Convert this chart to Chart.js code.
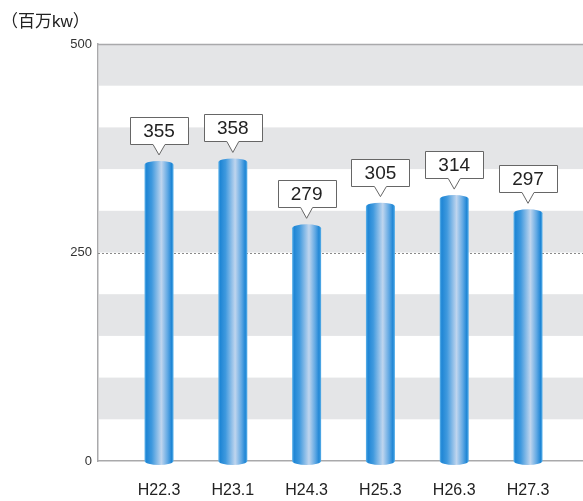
<!DOCTYPE html>
<html>
<head>
<meta charset="utf-8">
<script src="https://cdn.jsdelivr.net/npm/chart.js"></script>
<style>
  html, body { margin: 0; padding: 0; background: #fff; }
  #wrap { width: 583px; height: 501px; }
</style>
</head>
<body>
<div id="wrap"><canvas id="chartDenryoku" width="583" height="501"></canvas></div>
<script>
// データ（百万kW）
const categories = ['H22.3', 'H23.1', 'H24.3', 'H25.3', 'H26.3', 'H27.3'];
const values = [355, 358, 279, 305, 314, 297];
const yTicks = [0, 250, 500];
const unitLabel = '（百万kw）';

const FONT = '"Liberation Sans", Arial, "Noto Sans CJK JP", sans-serif';

// 背景の縞模様・250の点線・上枠線
const bgPlugin = {
  id: 'bgBands',
  beforeDatasetsDraw(chart) {
    const { ctx, chartArea: a, scales: { y } } = chart;
    ctx.save();
    ctx.fillStyle = '#e4e5e7';
    for (let v = 50; v < 500; v += 100) {
      const top = y.getPixelForValue(v + 50);
      const bot = y.getPixelForValue(v);
      ctx.fillRect(a.left + 1, top, a.right - a.left, bot - top);
    }
    // 250 点線
    const p = Math.round(y.getPixelForValue(250)) + 0.5;
    ctx.strokeStyle = '#8a8a8a';
    ctx.lineWidth = 1;
    ctx.setLineDash([2, 2]);
    ctx.beginPath();
    ctx.moveTo(a.left, p);
    ctx.lineTo(a.right, p);
    ctx.stroke();
    ctx.setLineDash([]);
    // 上枠
    const t = Math.round(y.getPixelForValue(500)) + 0.5;
    ctx.strokeStyle = '#a9a9ab';
    ctx.lineWidth = 1.5;
    ctx.beginPath();
    ctx.moveTo(a.left, t);
    ctx.lineTo(a.right, t);
    ctx.stroke();
    ctx.restore();
  }
};

// 円柱型の棒と吹き出しラベル
const cylPlugin = {
  id: 'cylinders',
  afterDatasetsDraw(chart) {
    const { ctx } = chart;
    const meta = chart.getDatasetMeta(0);
    meta.data.forEach((bar, i) => {
      const w = bar.width, x0 = bar.x - w / 2, x1 = bar.x + w / 2;
      const yTop = bar.y, yBase = bar.base;
      const ry = 4;
      const g = ctx.createLinearGradient(x0, 0, x1, 0);
      g.addColorStop(0, '#62b4ea');
      g.addColorStop(0.07, '#1f86d5');
      g.addColorStop(0.25, '#3f99de');
      g.addColorStop(0.58, '#bfd5ee');
      g.addColorStop(0.8, '#5ea7e3');
      g.addColorStop(0.93, '#1f86d5');
      g.addColorStop(1, '#5db2ea');
      ctx.save();
      ctx.fillStyle = g;
      ctx.beginPath();
      ctx.moveTo(x0, yTop);
      ctx.ellipse(bar.x, yTop, w / 2, ry, 0, Math.PI, 0, false);
      ctx.lineTo(x1, yBase);
      ctx.ellipse(bar.x, yBase, w / 2, ry, 0, 0, Math.PI, false);
      ctx.closePath();
      ctx.fill();
      ctx.restore();

      // 吹き出し
      const bw = 58, bh = 27;
      const tipY = yTop - 10;
      const bBot = yTop - 21;
      const bTop = bBot - bh;
      const bl = Math.round(bar.x - bw / 2) + 0.5, br = bl + bw;
      const tb = Math.round(bTop) + 0.5, bb = Math.round(bBot) + 0.5;
      ctx.save();
      ctx.fillStyle = '#fff';
      ctx.strokeStyle = '#666';
      ctx.lineWidth = 1;
      ctx.beginPath();
      ctx.moveTo(bl, tb);
      ctx.lineTo(br, tb);
      ctx.lineTo(br, bb);
      ctx.lineTo(bar.x + 6, bb);
      ctx.lineTo(bar.x, tipY);
      ctx.lineTo(bar.x - 6, bb);
      ctx.lineTo(bl, bb);
      ctx.closePath();
      ctx.fill();
      ctx.stroke();
      ctx.fillStyle = '#222';
      ctx.font = '19px ' + FONT;
      ctx.textAlign = 'center';
      ctx.textBaseline = 'middle';
      ctx.fillText(String(values[i]), bar.x, (tb + bb) / 2 + 1);
      ctx.restore();
    });
  }
};

// 単位ラベル
const unitPlugin = {
  id: 'unitLabel',
  afterDraw(chart) {
    const { ctx } = chart;
    ctx.save();
    ctx.fillStyle = '#222';
    ctx.font = '17px ' + FONT;
    ctx.textAlign = 'left';
    ctx.textBaseline = 'alphabetic';
    ctx.fillText(unitLabel, 1, 27);
    ctx.restore();
  }
};

const ctx = document.getElementById('chartDenryoku').getContext('2d');
new Chart(ctx, {
  type: 'bar',
  data: {
    datasets: [{
      data: values.map((v, i) => ({ x: i, y: v })),
      backgroundColor: 'rgba(0,0,0,0)',
      borderWidth: 0,
      barThickness: 29
    }]
  },
  options: {
    responsive: false,
    animation: false,
    events: [],
    layout: { padding: { top: 44, right: 0, bottom: 0, left: 0 } },
    plugins: { legend: { display: false }, tooltip: { enabled: false } },
    scales: {
      x: {
        type: 'linear',
        offset: false,
        min: -0.827,
        max: 5.745,
        grid: { display: false, drawTicks: false, offset: false },
        border: { display: true, color: '#a9a9ab', width: 1.5 },
        afterBuildTicks: s => { s.ticks = categories.map((c, i) => ({ value: i })); },
        afterFit: s => { s.height = 40; },
        ticks: {
          padding: 20,
          color: '#222',
          font: { size: 16, family: FONT },
          maxRotation: 0,
          autoSkip: false,
          callback: v => categories[v]
        }
      },
      y: {
        min: 0,
        max: 500,
        grid: { display: false, drawTicks: false },
        border: { display: true, color: '#a9a9ab', width: 1.5 },
        afterBuildTicks: s => { s.ticks = yTicks.map(v => ({ value: v })); },
        afterFit: s => { s.width = 98; },
        ticks: {
          padding: 6,
          color: '#333',
          font: { size: 13, family: FONT }
        }
      }
    }
  },
  plugins: [bgPlugin, cylPlugin, unitPlugin]
});
</script>
</body>
</html>
